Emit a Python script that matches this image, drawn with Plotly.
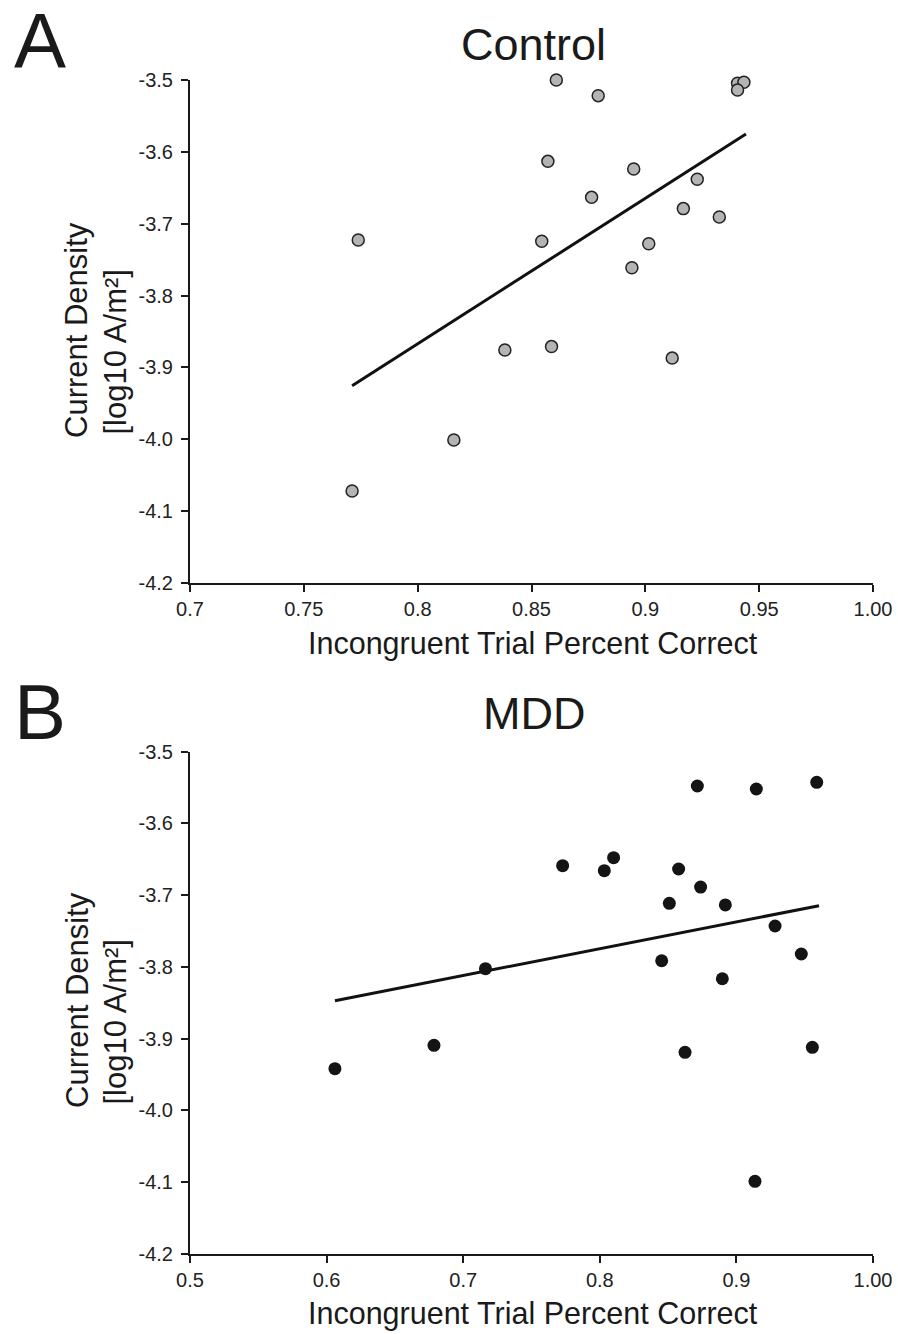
import plotly.graph_objects as go

W, H = 898, 1334

# Panel A: Control
ctrl_x = [0.7712, 0.7739, 0.8159, 0.8383, 0.8588, 0.9118, 0.8609, 0.8793,
          0.9405, 0.9433, 0.9405, 0.8572, 0.8949, 0.9228, 0.8764, 0.9167,
          0.9325, 0.8545, 0.9015, 0.8941]
ctrl_y = [-4.072, -3.7227, -4.001, -3.8758, -3.871, -3.887, -3.500, -3.5218,
          -3.5046, -3.5032, -3.5139, -3.6132, -3.6239, -3.6382, -3.6633, -3.679,
          -3.6907, -3.7245, -3.7278, -3.7612]
ctrl_fit_x = [0.7712, 0.9442]
ctrl_fit_y = [-3.9254, -3.5752]

# Panel B: MDD
mdd_x = [0.6061, 0.6786, 0.8624, 0.9556, 0.9136, 0.8714, 0.9146, 0.9588,
         0.7728, 0.8101, 0.8033, 0.8577, 0.8738, 0.8509, 0.8919, 0.9283,
         0.9475, 0.8453, 0.8897, 0.7163]
mdd_y = [-3.9418, -3.9092, -3.919, -3.912, -4.0987, -3.5478, -3.552, -3.5427,
         -3.6589, -3.6477, -3.6658, -3.6635, -3.6886, -3.7113, -3.7136, -3.7429,
         -3.7819, -3.7913, -3.8164, -3.8024]
mdd_fit_x = [0.6061, 0.9605]
mdd_fit_y = [-3.847, -3.7146]

y_ticks = [-3.5, -3.6, -3.7, -3.8, -3.9, -4.0, -4.1, -4.2]
y_labels = ["-3.5", "-3.6", "-3.7", "-3.8", "-3.9", "-4.0", "-4.1", "-4.2"]
a_xticks = [0.7, 0.75, 0.8, 0.85, 0.9, 0.95, 1.0]
a_xlabels = ["0.7", "0.75", "0.8", "0.85", "0.9", "0.95", "1.00"]
b_xticks = [0.5, 0.6, 0.7, 0.8, 0.9, 1.0]
b_xlabels = ["0.5", "0.6", "0.7", "0.8", "0.9", "1.00"]

FONT = "Liberation Sans, Arial, sans-serif"


def px_x(p):
    return p / W


def px_y(p):
    return 1 - p / H


fig = go.Figure()

fig.add_trace(go.Scatter(x=ctrl_fit_x, y=ctrl_fit_y, mode="lines",
                         line=dict(color="#111111", width=3),
                         xaxis="x", yaxis="y", showlegend=False))
fig.add_trace(go.Scatter(x=ctrl_x, y=ctrl_y, mode="markers",
                         marker=dict(size=12, color="#b4b4b4",
                                     line=dict(color="#222222", width=1.5)),
                         cliponaxis=False, xaxis="x", yaxis="y", showlegend=False))
fig.add_trace(go.Scatter(x=mdd_fit_x, y=mdd_fit_y, mode="lines",
                         line=dict(color="#111111", width=3),
                         xaxis="x2", yaxis="y2", showlegend=False))
fig.add_trace(go.Scatter(x=mdd_x, y=mdd_y, mode="markers",
                         marker=dict(size=13, color="#141414", line=dict(width=0)),
                         cliponaxis=False, xaxis="x2", yaxis="y2", showlegend=False))

axis_common = dict(showline=True, linecolor="#1a1a1a", linewidth=2,
                   ticks="outside", ticklen=7, tickwidth=2, tickcolor="#1a1a1a",
                   showgrid=False, zeroline=False, automargin=False,
                   tickfont=dict(family=FONT, size=20, color="#222222"))

xdom = [px_x(190), px_x(873)]
fig.update_layout(
    template="none",
    width=W, height=H,
    margin=dict(l=0, r=0, t=0, b=0),
    paper_bgcolor="white", plot_bgcolor="white",
    xaxis=dict(domain=xdom, range=[0.7, 1.0], tickvals=a_xticks, ticktext=a_xlabels,
               anchor="y", **axis_common),
    yaxis=dict(domain=[px_y(583), px_y(80)], range=[-4.2, -3.5], tickvals=y_ticks,
               ticktext=y_labels, anchor="x", ticklabelstandoff=4, **axis_common),
    xaxis2=dict(domain=xdom, range=[0.5, 1.0], tickvals=b_xticks, ticktext=b_xlabels,
                anchor="y2", **axis_common),
    yaxis2=dict(domain=[px_y(1254), px_y(751.7)], range=[-4.2, -3.5], tickvals=y_ticks,
                ticktext=y_labels, anchor="x2", ticklabelstandoff=4, **axis_common),
)

# (text, x px, y px, size, angle, yanchor)
annots = [
    ("A", 40, 41, 78, 0, "middle"),
    ("Control", 533, 45, 45, 0, "middle"),
    ("Incongruent Trial Percent Correct", 533, 643, 30.5, 0, "middle"),
    ("Current Density", 77, 440, 31, -90, "bottom"),
    ("[log10 A/m²]", 115, 437, 31, -90, "bottom"),
    ("B", 40, 712, 78, 0, "middle"),
    ("MDD", 534, 713, 45, 0, "middle"),
    ("Incongruent Trial Percent Correct", 533, 1313, 30.5, 0, "middle"),
    ("Current Density", 77, 1110, 31, -90, "bottom"),
    ("[log10 A/m²]", 115, 1107, 31, -90, "bottom"),
]
for text, x, y, size, ang, yanc in annots:
    fig.add_annotation(text=text, x=px_x(x), y=px_y(y), xref="paper", yref="paper",
                       xanchor="center", yanchor=yanc, showarrow=False,
                       textangle=ang, font=dict(family=FONT, size=size, color="#1a1a1a"))

fig.write_html("out.html", config={"displayModeBar": False},
               post_script="document.body.style.margin='0';")
